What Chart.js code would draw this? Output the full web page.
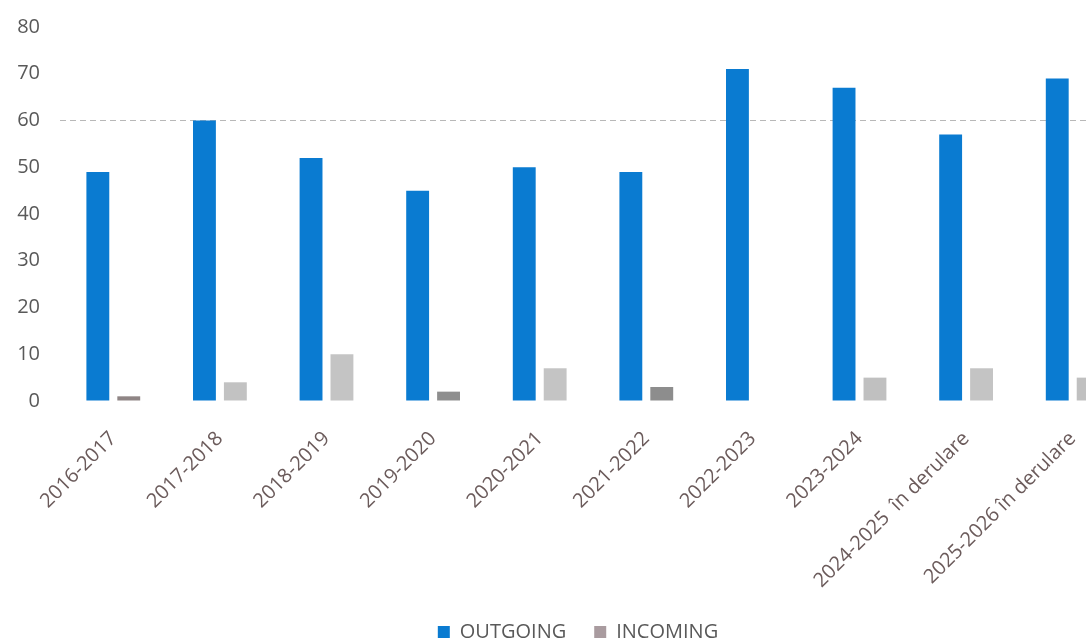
<!DOCTYPE html>
<html>
<head>
<meta charset="utf-8">
<script src="https://cdn.jsdelivr.net/npm/chart.js@4/dist/chart.umd.min.js"></script>
<style>
  html, body { margin: 0; padding: 0; background: #fff; overflow: hidden; }
  #wrap { position: relative; width: 1156px; height: 652px; }
</style>
</head>
<body>
<div id="wrap"><canvas id="barChart"></canvas></div>
<script>
// academic years on the x axis
const labels = [
  "2016-2017", "2017-2018", "2018-2019", "2019-2020", "2020-2021",
  "2021-2022", "2022-2023", "2023-2024", "2024-2025  în derulare", "2025-2026 în derulare"
];
const outgoing = [49, 60, 52, 45, 50, 49, 71, 67, 57, 69];
const incoming = [1, 4, 10, 2, 7, 3, 0, 5, 7, 5];
const yTicks = [0, 10, 20, 30, 40, 50, 60, 70, 80];

const blue = "#0a7bd1";
// scanned bars are not all the same grey
const incomingColors = ["#8f8585", "#c2c2c2", "#c4c4c4", "#8e8e8e", "#c4c4c4",
  "#8d8d8d", "#c4c4c4", "#c0c0c0", "#c4c4c4", "#c0c0c0"];
const textColor = "#595959";
const labelColor = "#6b5b5b";

const ctx = document.getElementById("barChart").getContext("2d");
new Chart(ctx, {
  type: "bar",
  data: {
    labels: labels,
    datasets: [
      { label: "OUTGOING", data: outgoing, backgroundColor: blue },
      { label: "INCOMING", data: incoming, backgroundColor: incomingColors }
    ]
  },
  options: {
    responsive: true,
    maintainAspectRatio: false,
    animation: false,
    categoryPercentage: 0.58,
    barPercentage: 0.74,
    layout: { padding: { left: 0, right: 0, top: 27, bottom: 0 } },
    plugins: {
      tooltip: { enabled: false },
      legend: {
        position: "bottom",
        labels: {
          boxWidth: 12,
          boxHeight: 12,
          padding: 2,
          color: textColor,
          font: { family: "Open Sans", size: 20, lineHeight: 1 },
          generateLabels: (chart) => {
            const items = Chart.defaults.plugins.legend.labels.generateLabels(chart);
            items[0].fillStyle = blue;
            items[0].text = "OUTGOING     ";
            items[1].fillStyle = "#a99b9f";
            items.forEach((it) => { it.lineWidth = 0; it.strokeStyle = "transparent"; });
            return items;
          }
        }
      }
    },
    scales: {
      x: {
        grid: { display: false },
        border: { display: false },
        afterFit: (axis) => { axis.height = 219; },
        ticks: {
          color: labelColor,
          minRotation: 45,
          maxRotation: 45,
          padding: 18,
          font: { family: "Open Sans", size: 20 }
        }
      },
      y: {
        min: 0,
        max: 80,
        afterBuildTicks: (axis) => { axis.ticks = yTicks.map((v) => ({ value: v })); },
        afterFit: (axis) => {
          axis.width = 60;
          axis.paddingTop = 0;
          axis.paddingBottom = 0;
        },
        border: { display: false, dash: [6, 4] },
        grid: {
          color: (c) => (c.tick && c.tick.value === 60 ? "#b8b8b8" : "transparent"),
          drawTicks: false
        },
        ticks: {
          color: textColor,
          padding: 20,
          font: { family: "Open Sans", size: 20 }
        }
      },
      // empty right-hand axis: keeps the plot clipped like the scan, legend centred
      yRight: {
        position: "right",
        display: true,
        grid: { display: false },
        border: { display: false },
        ticks: { display: false },
        afterFit: (axis) => {
          axis.width = 30;
          axis.paddingTop = 0;
          axis.paddingBottom = 0;
        }
      }
    }
  }
});
</script>
</body>
</html>
